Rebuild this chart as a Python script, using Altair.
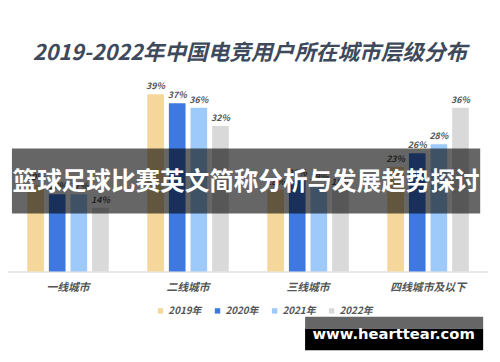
import altair as alt
import pandas as pd

categories = ["一线城市", "二线城市", "三线城市", "四线城市及以下"]
years = ["2019年", "2020年", "2021年", "2022年"]
colors = ["#f5d79c", "#3f79e0", "#9dcafb", "#d9d9d9"]
v2019 = [19, 39, 18, 23]
v2020 = [17, 37, 20, 26]
v2021 = [17, 36, 19, 28]
v2022 = [14, 32, 18, 36]

title_text = "2019-2022年中国电竞用户所在城市层级分布"
band_text = "篮球足球比赛英文简称分析与发展趋势探讨"
mark_text = "www.hearttear.com"

rows = []
for yr, vals in zip(years, [v2019, v2020, v2021, v2022]):
    for c, v in zip(categories, vals):
        rows.append({"城市": c, "年份": yr, "值": v, "标签": f"{v}%"})
df = pd.DataFrame(rows)
cat_df = pd.DataFrame({"城市": categories})

FONT = "Noto Sans CJK SC"

x_enc = alt.X("城市:N", sort=categories, axis=None,
              scale=alt.Scale(range=[0, 488], paddingInner=0, paddingOuter=0))
xo_enc = alt.XOffset("年份:N", sort=years,
                     scale=alt.Scale(paddingInner=0.23, paddingOuter=0.89))
y_scale = alt.Scale(domain=[0, 40], range=[195, 10])

bars = alt.Chart(df).mark_bar().encode(
    x=x_enc, xOffset=xo_enc,
    y=alt.Y("值:Q", scale=y_scale, axis=None),
    color=alt.Color("年份:N", sort=years,
                    scale=alt.Scale(domain=years, range=colors),
                    legend=alt.Legend(title=None, orient="none", direction="horizontal",
                                      legendX=150, legendY=230, symbolType="square",
                                      symbolSize=30, symbolStrokeWidth=0,
                                      labelFont=FONT, labelFontSize=10,
                                      labelFontStyle="italic", labelFontWeight="bold",
                                      labelColor="#555555", columnPadding=11,
                                      labelOffset=3)),
)

labels = alt.Chart(df).mark_text(
    baseline="bottom", dy=-3, font=FONT, fontSize=9, fontStyle="italic",
    fontWeight="bold", color="#555555"
).encode(
    x=x_enc, xOffset=xo_enc,
    y=alt.Y("值:Q", scale=y_scale, axis=None),
    text="标签:N",
)

baseline = alt.Chart(cat_df).mark_rule(color="#e8e8e8", strokeWidth=1.5).encode(
    x=alt.value(0), x2=alt.value(488), y=alt.value(195.5),
)

cat_labels = alt.Chart(cat_df).mark_text(
    font=FONT, fontSize=11, fontStyle="italic", fontWeight="bold", color="#555555"
).encode(
    x=x_enc, y=alt.value(212), text="城市:N",
)

band_df = pd.DataFrame({"t": [band_text]})
band_rect = alt.Chart(band_df).mark_rect(color="#000000", opacity=0.6).encode(
    x=alt.value(4), x2=alt.value(480), y=alt.value(70), y2=alt.value(136),
)
band_label = alt.Chart(band_df).mark_text(
    font=FONT, fontSize=25, fontWeight="bold", color="#ffffff"
).encode(x=alt.value(242), y=alt.value(104), text="t:N")

wm_df = pd.DataFrame({"t": [mark_text]})
wm_gray = alt.Chart(wm_df).mark_rect(color="#666666").encode(
    x=alt.value(302), x2=alt.value(483), y=alt.value(241), y2=alt.value(253),
)
wm_black = alt.Chart(wm_df).mark_rect(color="#000000").encode(
    x=alt.value(302), x2=alt.value(483), y=alt.value(253), y2=alt.value(275),
)
wm_text = alt.Chart(wm_df).mark_text(
    font="DejaVu Sans", fontSize=15, fontWeight="bold", color="#ffffff"
).encode(x=alt.value(392), y=alt.value(259), text="t:N")

chart = alt.layer(
    baseline, bars, labels, cat_labels, band_rect, band_label, wm_gray, wm_black, wm_text
).properties(
    width=492, height=284,
    autosize=alt.AutoSizeParams(type="none"),
    padding={"left": 0, "top": 70, "right": 0, "bottom": 0},
    title=alt.TitleParams(title_text, anchor="middle", orient="top", offset=15,
                          font=FONT, fontSize=22, fontWeight="bold",
                          fontStyle="italic", color="#3e4a5c"),
).configure_view(stroke=None)

chart.save("out.html", embed_options={"renderer": "svg", "actions": False})
